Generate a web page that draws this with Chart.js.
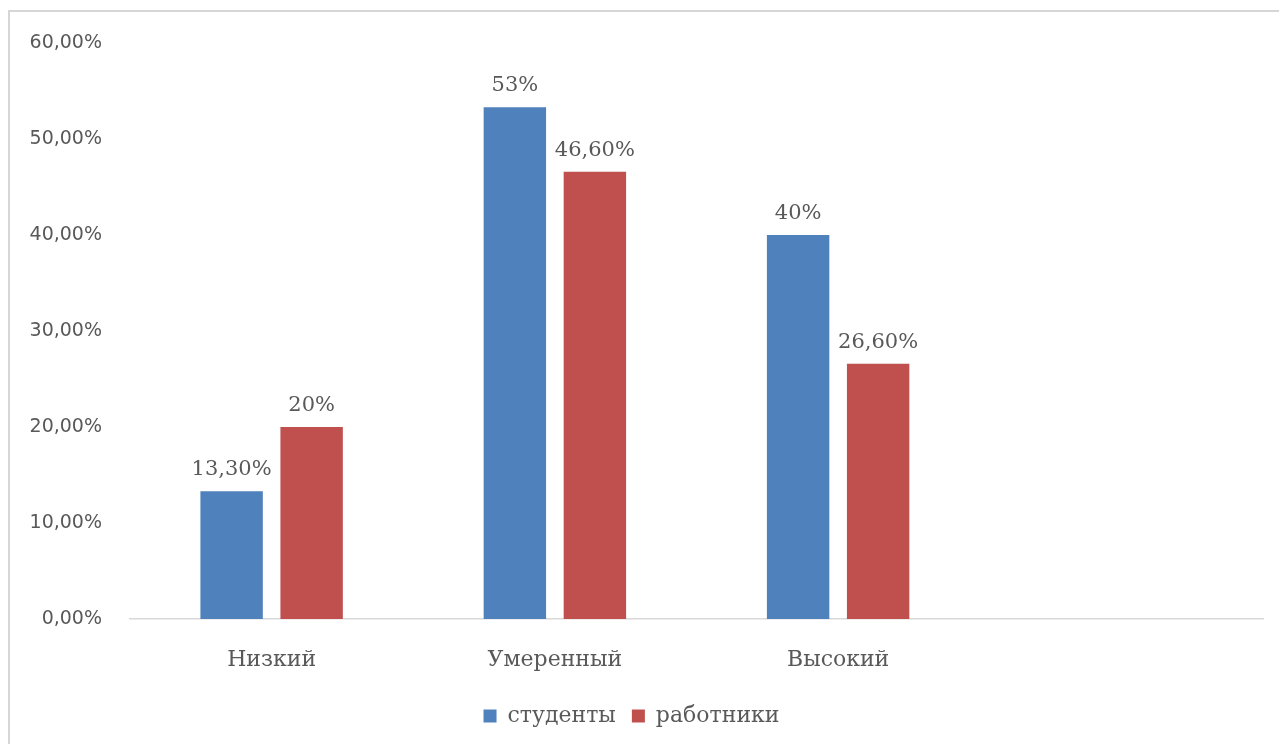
<!DOCTYPE html>
<html lang="ru">
<head>
<meta charset="utf-8">
<title>Уровень</title>
<script src="https://cdn.jsdelivr.net/npm/chart.js@4/dist/chart.umd.min.js"></script>
<style>
    html, body { margin: 0; padding: 0; background: #fff; overflow: hidden; }
    #frame { position: absolute; left: 8px; top: 10px; width: 1300px; height: 780px;
             border-left: 2px solid #d6d6d6; border-top: 2px solid #d6d6d6; }
    #wrap { position: absolute; left: 0; top: 0; width: 1279px; height: 744px; }
</style>
</head>
<body>
<div id="frame"></div>
<div id="wrap"><canvas id="grafico"></canvas></div>
<script>
// dados
const categorias = ["Низкий", "Умеренный", "Высокий", ""];
const nomesSeries = ["студенты", "работники"];
const estudantes = [13.3, 53.3, 40];
const trabalhadores = [20, 46.6, 26.6];
const rotulosEstudantes = ["13,30%", "53%", "40%"];
const rotulosTrabalhadores = ["20%", "46,60%", "26,60%"];
const ticksY = [0, 10, 20, 30, 40, 50, 60];

const cinza = "#595959";
const serif = "'DejaVu Serif', serif";
const sans = "'DejaVu Sans', sans-serif";

// escreve o valor acima de cada barra
const rotulosPlugin = {
    id: "rotulos",
    afterDatasetsDraw(chart) {
        const ctx = chart.ctx;
        const todos = [rotulosEstudantes, rotulosTrabalhadores];
        ctx.save();
        ctx.font = "21px " + serif;
        ctx.fillStyle = cinza;
        ctx.textAlign = "center";
        ctx.textBaseline = "alphabetic";
        chart.data.datasets.forEach((ds, i) => {
            chart.getDatasetMeta(i).data.forEach((barra, j) => {
                const texto = todos[i][j];
                if (texto) ctx.fillText(texto, barra.x, barra.y - 16);
            });
        });
        ctx.restore();
    }
};

new Chart(document.getElementById("grafico"), {
    type: "bar",
    data: {
        labels: categorias,
        datasets: [{
            label: nomesSeries[0],
            data: estudantes,
            backgroundColor: "#4f81bd",
            categoryPercentage: 0.565,
            barPercentage: 0.78
        }, {
            label: nomesSeries[1],
            data: trabalhadores,
            backgroundColor: "#c0504d",
            categoryPercentage: 0.565,
            barPercentage: 0.78
        }]
    },
    options: {
        responsive: true,
        maintainAspectRatio: false,
        animation: false,
        layout: { padding: { top: 43, right: 16, bottom: 7, left: 0 } },
        plugins: {
            legend: {
                position: "bottom",
                labels: {
                    boxWidth: 13,
                    boxHeight: 13,
                    padding: 16,
                    color: cinza,
                    font: { family: serif, size: 22 }
                }
            },
            tooltip: { enabled: false }
        },
        scales: {
            x: {
                grid: { display: false },
                border: { display: true, color: "#d9d9d9", width: 1.5 },
                ticks: { color: cinza, padding: 20, font: { family: serif, size: 22 } },
                afterFit: (escala) => { escala.height = 70; }
            },
            y: {
                min: ticksY[0],
                max: ticksY[ticksY.length - 1],
                grid: { display: false, drawTicks: false },
                border: { display: false },
                afterBuildTicks: (escala) => { escala.ticks = ticksY.map(v => ({ value: v })); },
                ticks: {
                    color: cinza,
                    padding: 28,
                    font: { family: sans, size: 19 },
                    callback: (v) => v.toFixed(2).replace(".", ",") + "%"
                },
                afterFit: (escala) => { escala.width = 130; }
            }
        }
    },
    plugins: [rotulosPlugin]
});
</script>
</body>
</html>
